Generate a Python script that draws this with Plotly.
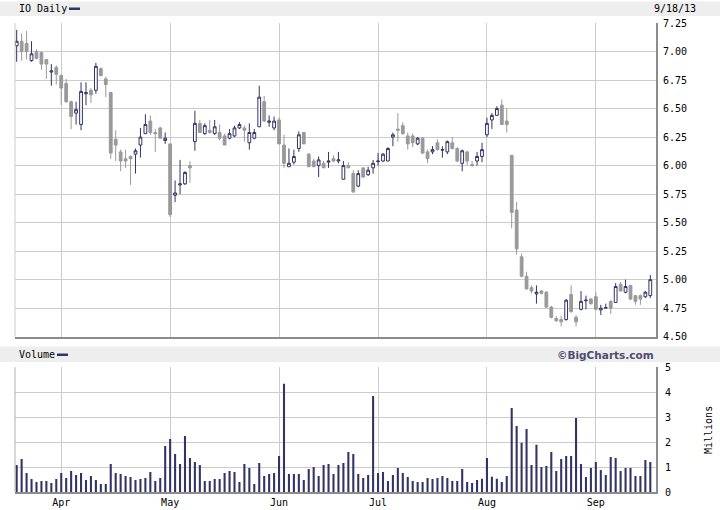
import pandas as pd
import plotly.graph_objects as go

# ---------------- data ----------------
holidays = ["2013-03-29", "2013-05-27", "2013-07-04", "2013-09-02"]
dates = [d for d in pd.bdate_range("2013-03-18", "2013-09-18")
         if d.strftime("%Y-%m-%d") not in holidays]

opens = [7.05, 7.09, 7.07, 6.92, 7.00, 6.99, 6.93, 6.82, 6.86, 6.79,
         6.72, 6.56, 6.46, 6.36, 6.63, 6.66, 6.66, 6.85, 6.76, 6.64,
         6.23, 6.12, 6.06, 6.08, 6.10, 6.18, 6.28, 6.39, 6.29, 6.33,
         6.22, 6.19, 5.74, 5.83, 5.84, 6.00, 6.21, 6.37, 6.28, 6.31,
         6.28, 6.29, 6.26, 6.24, 6.26, 6.33, 6.33, 6.20, 6.24, 6.34,
         6.56, 6.38, 6.33, 6.40, 6.18, 5.99, 6.03, 6.15, 6.29, 6.10,
         6.04, 6.00, 6.02, 6.03, 6.06, 6.04, 5.88, 6.00, 5.93, 5.82,
         5.98, 5.92, 5.98, 6.035, 6.04, 6.04, 6.25, 6.32, 6.35, 6.26,
         6.26, 6.19, 6.24, 6.12, 6.12, 6.20, 6.135, 6.12, 6.20, 6.15,
         6.02, 6.12, 6.01, 6.04, 6.08, 6.27, 6.40, 6.44, 6.53, 6.39,
         6.09, 5.61, 5.20, 5.03, 4.93, 4.875, 4.90, 4.89, 4.76, 4.66,
         4.65, 4.65, 4.87, 4.67, 4.74, 4.815, 4.83, 4.85, 4.735, 4.75,
         4.81, 4.80, 4.96, 4.89, 4.95, 4.86, 4.86, 4.85, 4.86]
highs = [7.19, 7.16, 7.18, 7.09, 7.02, 7.00, 6.93, 6.89, 6.88, 6.80,
         6.76, 6.57, 6.56, 6.73, 6.73, 6.68, 6.90, 6.86, 6.78, 6.64,
         6.31, 6.14, 6.14, 6.09, 6.15, 6.33, 6.45, 6.44, 6.32, 6.34,
         6.29, 6.19, 5.87, 6.05, 5.95, 6.04, 6.48, 6.40, 6.37, 6.40,
         6.40, 6.36, 6.28, 6.32, 6.35, 6.38, 6.35, 6.37, 6.32, 6.70,
         6.61, 6.44, 6.43, 6.42, 6.27, 6.15, 6.14, 6.30, 6.29, 6.11,
         6.06, 6.08, 6.04, 6.12, 6.09, 6.12, 6.04, 6.03, 5.96, 5.96,
         5.98, 5.99, 6.05, 6.11, 6.11, 6.16, 6.29, 6.46, 6.38, 6.29,
         6.28, 6.25, 6.25, 6.14, 6.17, 6.23, 6.17, 6.22, 6.25, 6.16,
         6.14, 6.13, 6.04, 6.12, 6.20, 6.42, 6.46, 6.52, 6.58, 6.50,
         6.09, 5.68, 5.23, 5.07, 4.95, 4.95, 4.91, 4.90, 4.77, 4.68,
         4.68, 4.83, 4.95, 4.69, 4.90, 4.86, 4.84, 4.89, 4.78, 4.79,
         4.82, 4.97, 4.98, 5.00, 4.95, 4.86, 4.87, 4.90, 5.04]
lows = [6.91, 6.92, 6.93, 6.91, 6.93, 6.84, 6.76, 6.70, 6.71, 6.53,
        6.55, 6.32, 6.36, 6.31, 6.53, 6.55, 6.63, 6.78, 6.60, 6.06,
        6.04, 5.95, 5.98, 5.83, 5.93, 6.07, 6.28, 6.27, 6.12, 6.24,
        6.19, 5.55, 5.68, 5.75, 5.83, 5.85, 6.13, 6.29, 6.27, 6.28,
        6.27, 6.22, 6.18, 6.23, 6.25, 6.32, 6.21, 6.14, 6.23, 6.34,
        6.38, 6.34, 6.31, 6.19, 5.98, 5.99, 6.01, 6.12, 6.19, 5.99,
        5.99, 5.90, 5.98, 5.98, 6.03, 6.02, 5.88, 5.98, 5.76, 5.81,
        5.89, 5.91, 5.93, 6.00, 6.03, 6.04, 6.17, 6.21, 6.27, 6.14,
        6.16, 6.18, 6.10, 6.02, 6.10, 6.13, 6.07, 6.10, 6.14, 6.03,
        5.95, 6.00, 5.99, 6.00, 6.03, 6.25, 6.32, 6.44, 6.36, 6.29,
        5.45, 5.22, 5.02, 4.91, 4.88, 4.79, 4.87, 4.75, 4.66, 4.63,
        4.59, 4.64, 4.71, 4.59, 4.73, 4.74, 4.78, 4.73, 4.69, 4.75,
        4.70, 4.80, 4.90, 4.88, 4.82, 4.78, 4.78, 4.84, 4.84]
closes = [7.09, 7.00, 7.00, 6.98, 6.94, 6.89, 6.89, 6.83, 6.80, 6.68,
          6.56, 6.43, 6.49, 6.65, 6.64, 6.62, 6.87, 6.79, 6.71, 6.11,
          6.18, 6.04, 6.04, 6.06, 6.13, 6.25, 6.36, 6.29, 6.28, 6.24,
          6.24, 5.57, 5.76, 5.84, 5.94, 5.98, 6.37, 6.29, 6.35, 6.29,
          6.34, 6.24, 6.18, 6.28, 6.33, 6.36, 6.31, 6.29, 6.29, 6.60,
          6.39, 6.39, 6.39, 6.19, 6.02, 6.02, 6.08, 6.27, 6.19, 5.99,
          5.99, 6.05, 5.98, 6.04, 6.04, 6.05, 6.00, 5.98, 5.77, 5.93,
          5.90, 5.96, 6.02, 6.04, 6.10, 6.15, 6.27, 6.31, 6.28, 6.19,
          6.20, 6.24, 6.11, 6.06, 6.14, 6.14, 6.14, 6.21, 6.15, 6.04,
          6.13, 6.04, 6.00, 6.08, 6.14, 6.37, 6.44, 6.50, 6.36, 6.36,
          5.59, 5.27, 5.03, 4.92, 4.90, 4.89, 4.88, 4.76, 4.67, 4.64,
          4.63, 4.82, 4.72, 4.63, 4.81, 4.82, 4.79, 4.74, 4.75, 4.755,
          4.75, 4.94, 4.90, 4.94, 4.83, 4.81, 4.83, 4.89, 5.00]
volumes = [1.08, 1.32, 0.76, 0.52, 0.40, 0.44, 0.44, 0.36, 0.52, 0.76,
           0.56, 0.84, 0.68, 0.76, 0.48, 0.64, 0.48, 0.32, 0.32, 1.12,
           0.76, 0.72, 0.64, 0.60, 0.48, 0.52, 0.56, 0.80, 0.44, 0.56,
           1.84, 2.13, 1.52, 1.12, 2.25, 1.36, 1.20, 1.08, 0.44, 0.44,
           0.52, 0.52, 0.76, 0.84, 0.80, 0.40, 1.12, 0.96, 0.32, 1.16,
           0.64, 0.72, 0.76, 1.44, 4.34, 0.72, 0.72, 0.72, 0.48, 0.92,
           1.00, 0.64, 1.08, 1.12, 0.72, 1.08, 1.16, 1.60, 1.52, 0.72,
           0.56, 0.68, 3.85, 0.76, 0.80, 0.44, 0.68, 0.96, 0.76, 0.60,
           0.44, 0.40, 0.40, 0.56, 0.52, 0.56, 0.64, 0.56, 0.44, 0.44,
           0.92, 0.40, 0.36, 0.48, 0.53, 1.36, 0.61, 0.53, 0.40, 0.64,
           3.37, 2.65, 1.97, 2.53, 1.08, 1.89, 1.00, 1.04, 1.60, 0.84,
           1.32, 1.44, 1.44, 2.97, 1.12, 0.60, 0.96, 1.20, 0.88, 0.68,
           1.40, 1.36, 0.84, 0.96, 0.96, 0.64, 0.64, 1.28, 1.20]

price_ticks = [4.50, 4.75, 5.00, 5.25, 5.50, 5.75, 6.00, 6.25, 6.50, 6.75, 7.00, 7.25]
volume_ticks = [0, 1, 2, 3, 4, 5]

x = list(range(len(dates)))
month_idx = [i for i in range(1, len(dates)) if dates[i].month != dates[i - 1].month]
month_lbl = [dates[i].strftime("%b") for i in month_idx]

# ---------------- styling ----------------
NAVY = "#333366"
GRAY = "#999999"
GRID = "#cccccc"
BORDER = "#8c8c8c"
BAND = "#eeeeee"
MONO = "DejaVu Sans Mono"

W, H = 720, 510
L, R, T, B = 15, 64, 23, 18
PW, PH = W - L - R, H - T - B


def px(xp):
    return (xp - L) / PW


def py(yp):
    return (H - B - yp) / PH


fig = go.Figure()

fig.add_trace(go.Candlestick(
    x=x, open=opens, high=highs, low=lows, close=closes,
    increasing=dict(line=dict(color=NAVY, width=1), fillcolor="white"),
    decreasing=dict(line=dict(color=GRAY, width=1), fillcolor=GRAY),
    whiskerwidth=0, xaxis="x", yaxis="y", showlegend=False, hoverinfo="skip",
))

fig.add_trace(go.Bar(
    x=x, y=volumes, marker=dict(color=NAVY, line=dict(width=0)),
    width=0.42, xaxis="x2", yaxis="y2", showlegend=False, hoverinfo="skip",
))

xr = [-0.34, len(dates) + 0.15]
common_x = dict(range=xr, tickmode="array", tickvals=month_idx, showgrid=True,
                gridcolor=GRID, gridwidth=1, zeroline=False, automargin=False,
                showline=True, linecolor=BORDER, linewidth=2)

fig.update_layout(
    template="none",
    width=W, height=H,
    margin=dict(l=L, r=R, t=T, b=B, pad=0, autoexpand=False),
    paper_bgcolor="white", plot_bgcolor="white",
    boxgap=0.2, showlegend=False,
    xaxis=dict(**common_x, anchor="y", ticktext=["" for _ in month_lbl],
               showticklabels=False, rangeslider=dict(visible=False), ticks=""),
    xaxis2=dict(**common_x, anchor="y2", matches="x", ticktext=month_lbl,
                showticklabels=True, ticks="",
                tickfont=dict(family=MONO, size=10, color="black")),
    yaxis=dict(domain=[py(336.7), 1.0], range=[4.5, 7.25], side="right",
               tickmode="array", tickvals=price_ticks, automargin=False,
               ticktext=[f"{v:.2f}" for v in price_ticks],
               showgrid=True, gridcolor=GRID, gridwidth=1, zeroline=False,
               showline=True, linecolor=BORDER, linewidth=2,
               ticks="outside", ticklen=3, tickcolor="rgba(0,0,0,0)",
               tickfont=dict(family=MONO, size=10, color="black")),
    yaxis2=dict(domain=[0, py(367.3)], range=[0, 5], side="right",
                tickmode="array", tickvals=volume_ticks, automargin=False,
                ticktext=[str(v) for v in volume_ticks],
                showgrid=True, gridcolor=GRID, gridwidth=1, zeroline=False,
                showline=True, linecolor=BORDER, linewidth=2,
                ticks="outside", ticklen=5, tickcolor="rgba(0,0,0,0)",
                tickfont=dict(family=MONO, size=10, color="black")),
)

shapes = []
# header bands
shapes.append(dict(type="rect", xref="paper", yref="paper", layer="below",
                   x0=px(0), x1=px(720), y0=py(16), y1=py(1.5),
                   fillcolor=BAND, line=dict(width=0)))
shapes.append(dict(type="rect", xref="paper", yref="paper", layer="below",
                   x0=px(0), x1=px(720), y0=py(362), y1=py(346.5),
                   fillcolor=BAND, line=dict(width=0)))
# legend dashes
shapes.append(dict(type="rect", xref="paper", yref="paper",
                   x0=px(69), x1=px(80), y0=py(10), y1=py(7.5),
                   fillcolor=NAVY, line=dict(width=0)))
shapes.append(dict(type="rect", xref="paper", yref="paper",
                   x0=px(57), x1=px(68), y0=py(356), y1=py(353.5),
                   fillcolor=NAVY, line=dict(width=0)))
# left borders
shapes.append(dict(type="line", xref="paper", yref="paper",
                   x0=0, x1=0, y0=py(336.7), y1=1.0, line=dict(color=GRID, width=1)))
shapes.append(dict(type="line", xref="paper", yref="paper",
                   x0=0, x1=0, y0=0, y1=py(367.3), line=dict(color="#b0b0b0", width=1)))
fig.update_layout(shapes=shapes)

ann = [
    dict(text="IO Daily", x=px(17), y=py(8.5), xanchor="left", yanchor="middle",
         font=dict(family=MONO, size=10, color="black")),
    dict(text="9/18/13", x=px(698), y=py(8.5), xanchor="right", yanchor="middle",
         font=dict(family=MONO, size=10, color="black")),
    dict(text="Volume", x=px(17), y=py(354.5), xanchor="left", yanchor="middle",
         font=dict(family=MONO, size=10, color="black")),
    dict(text="©BigCharts.com", x=px(656), y=py(354.5), xanchor="right", yanchor="middle",
         font=dict(family="DejaVu Sans", size=10.5, color="#4d4d70", weight="bold")),
    dict(text="Millions", x=px(708), y=py(430), xanchor="center", yanchor="middle",
         textangle=-90, font=dict(family=MONO, size=10, color="black")),
]
for a in ann:
    a.update(xref="paper", yref="paper", showarrow=False)
fig.update_layout(annotations=ann)

fig.write_html("out.html", config={"displayModeBar": False},
               post_script="document.body.style.margin='0';document.body.style.overflow='hidden';")
